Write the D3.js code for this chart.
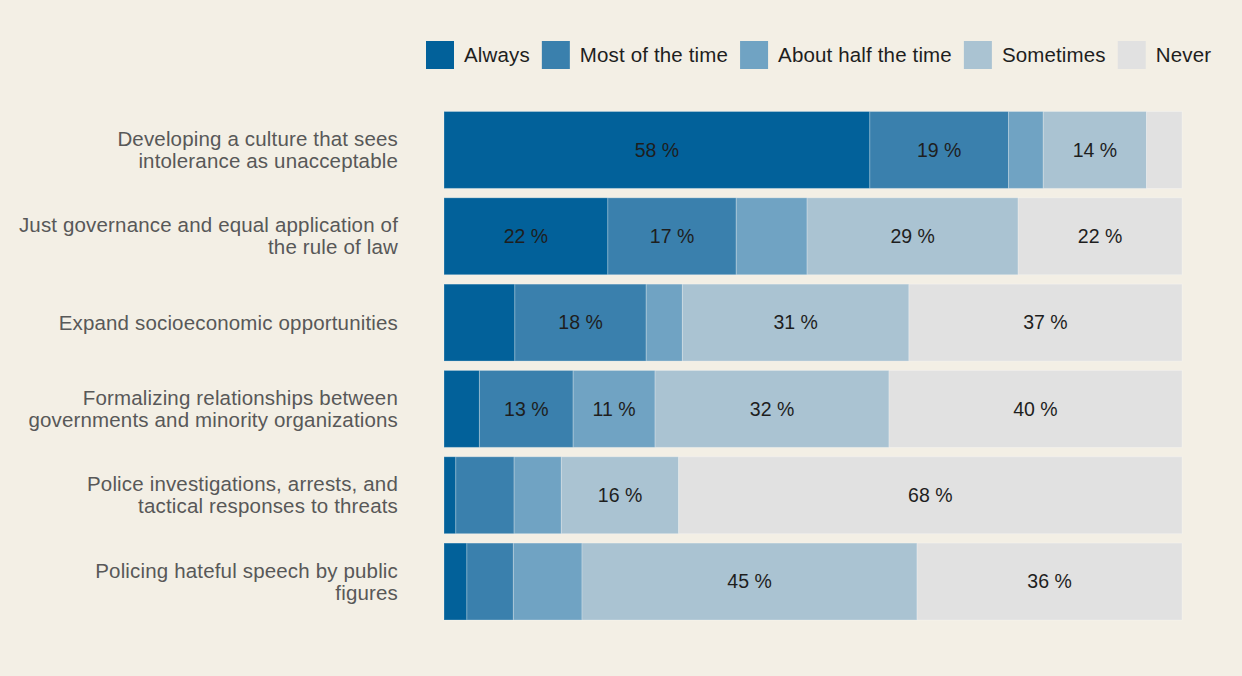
<!DOCTYPE html>
<html>
<head>
<meta charset="utf-8">
<script src="https://cdn.jsdelivr.net/npm/d3@7"></script>
<style>
  body { margin: 0; background: #f3efe5; }
  svg { display: block; font-family: "Liberation Sans", Arial, sans-serif; }
</style>
</head>
<body>
<div id="chart"></div>
<script>
// categories (line breaks as in the picture)
var categories = [
  "Developing a culture that sees\nintolerance as unacceptable",
  "Just governance and equal application of\nthe rule of law",
  "Expand socioeconomic opportunities",
  "Formalizing relationships between\ngovernments and minority organizations",
  "Police investigations, arrests, and\ntactical responses to threats",
  "Policing hateful speech by public\nfigures"
];
var answers = ["Always", "Most of the time", "About half the time", "Sometimes", "Never"];
var colors = ["#02619a", "#3a80ad", "#70a3c3", "#aac3d2", "#e1e1e1"];

// shares per answer, in category order (percent)
var always    = [57.7, 22.2,  9.6,  4.8,  1.6,  3.1];
var mostTime  = [18.8, 17.4, 17.8, 12.7,  7.9,  6.3];
var halfTime  = [ 4.7,  9.6,  4.9, 11.1,  6.4,  9.3];
var sometimes = [14.0, 28.6, 30.7, 31.7, 15.9, 45.4];
var never     = [ 4.8, 22.2, 37.0, 39.7, 68.2, 35.9];

var series = [always, mostTime, halfTime, sometimes, never];

var width = 1242, height = 676;
var svg = d3.select("#chart").append("svg")
    .attr("width", width)
    .attr("height", height);

svg.append("rect").attr("width", width).attr("height", height).attr("fill", "#f3efe5");

var rows = categories.map(function(c, i) {
  var r = { cat: c };
  answers.forEach(function(a, j) { r[a] = series[j][i]; });
  return r;
});
var stacked = d3.stack().keys(answers)(rows);

var x = d3.scaleLinear().domain([0, 100]).range([444, 1182]);
var y = d3.scaleBand().domain(categories).range([111.5, 620]).paddingInner(0.109);

var layers = svg.selectAll("g.layer")
  .data(stacked)
  .enter().append("g")
    .attr("class", "layer")
    .attr("fill", function(d, i) { return colors[i]; });

layers.selectAll("rect")
  .data(function(d) { return d; })
  .enter().append("rect")
    .attr("x", function(d) { return x(d[0]); })
    .attr("y", function(d) { return y(d.data.cat); })
    .attr("width", function(d) { return x(d[1]) - x(d[0]); })
    .attr("height", y.bandwidth())
    .attr("stroke", "rgba(255,255,255,0.25)")
    .attr("stroke-width", 1);

// value labels, only for the wider segments
layers.selectAll("text")
  .data(function(d) { return d.filter(function(s) { return s[1] - s[0] >= 10; }); })
  .enter().append("text")
    .attr("x", function(d) { return (x(d[0]) + x(d[1])) / 2; })
    .attr("y", function(d) { return y(d.data.cat) + y.bandwidth() / 2; })
    .attr("dy", "0.35em")
    .attr("text-anchor", "middle")
    .attr("fill", "#1e1e1e")
    .style("font-size", "19.5px")
    .text(function(d) { return Math.round(d[1] - d[0]) + " %"; });

// category labels
var yAxis = svg.append("g").attr("class", "y-labels");
categories.forEach(function(c) {
  var lines = c.split("\n");
  var cy = y(c) + y.bandwidth() / 2;
  var t = yAxis.append("text")
    .attr("x", 398)
    .attr("text-anchor", "end")
    .attr("fill", "#585858")
    .style("font-size", "20.5px")
    .style("letter-spacing", "0.16px");
  lines.forEach(function(line, k) {
    t.append("tspan")
      .attr("x", 398)
      .attr("y", cy + (k - (lines.length - 1) / 2) * 22)
      .attr("dy", "0.35em")
      .text(line);
  });
});

// legend
var legend = svg.append("g").attr("class", "legend");
var lx = 426;
answers.forEach(function(a, i) {
  legend.append("rect")
    .attr("x", lx).attr("y", 41)
    .attr("width", 28).attr("height", 28)
    .attr("fill", colors[i]);
  var t = legend.append("text")
    .attr("x", lx + 38).attr("y", 55)
    .attr("dy", "0.35em")
    .attr("fill", "#1e1e1e")
    .style("font-size", "20.5px")
    .style("letter-spacing", "0.15px")
    .text(a);
  lx += 38 + t.node().getComputedTextLength() + 12;
});
</script>
</body>
</html>
